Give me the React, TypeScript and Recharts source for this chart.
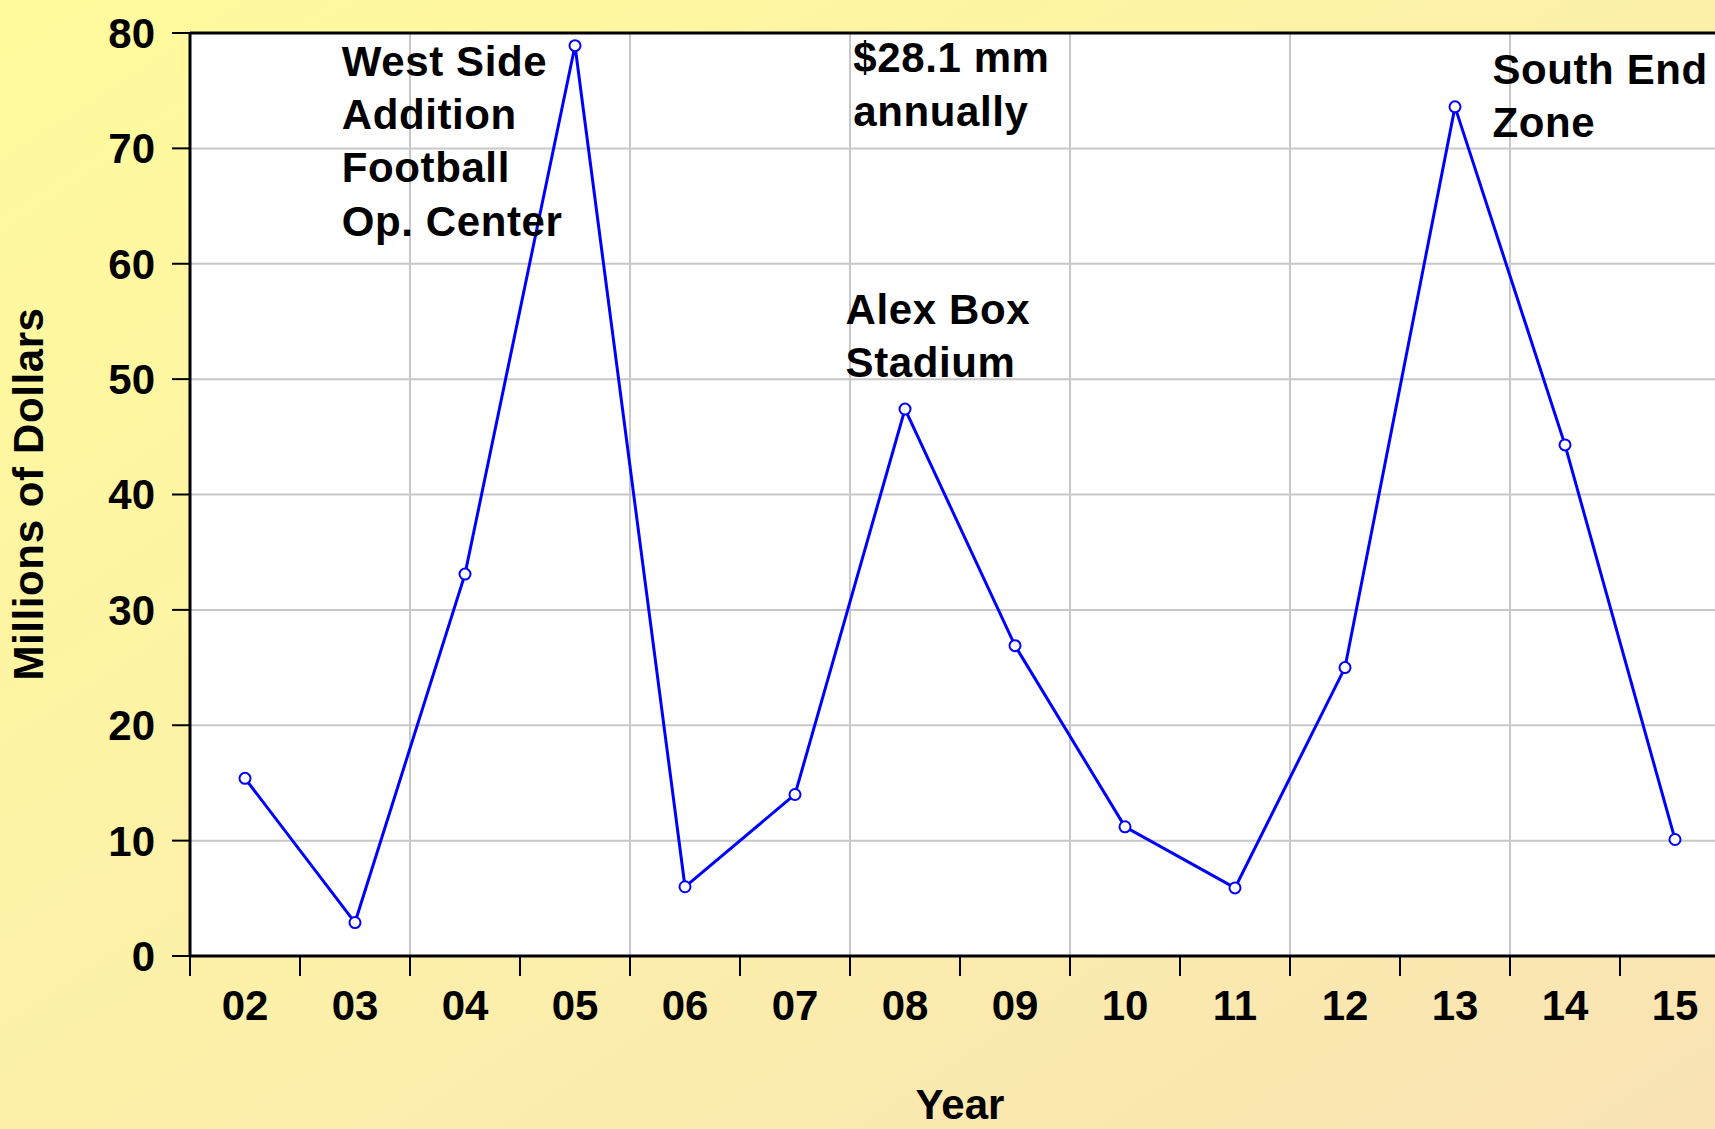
import React from "react";
import {
  LineChart,
  Line,
  XAxis,
  YAxis,
  CartesianGrid,
  ReferenceLine,
  ReferenceDot,
} from "recharts";

const years = ["02", "03", "04", "05", "06", "07", "08", "09", "10", "11", "12", "13", "14", "15"];
const spending = [15.4, 2.9, 33.1, 78.9, 6.0, 14.0, 47.4, 26.9, 11.2, 5.9, 25.0, 73.6, 44.3, 10.1];
const yTicks = [0, 10, 20, 30, 40, 50, 60, 70, 80];
// band edges that carry a vertical grid line
const gridEdges = [2, 4, 6, 8, 10, 12];

const westSide = ["West Side", "Addition", "Football", "Op. Center"];
const average = ["$28.1 mm", "annually"];
const alexBox = ["Alex Box", "Stadium"];
const southEnd = ["South End", "Zone"];

const notes = [
  { x: 1.38, y: 76.3, lines: westSide },
  { x: 6.03, y: 76.6, lines: average },
  { x: 5.96, y: 54.8, lines: alexBox },
  { x: 11.84, y: 75.6, lines: southEnd },
];

const data = years.map((year, i) => ({ year, pos: i + 0.5, value: spending[i] }));
const xTicks = [...years.flatMap((_, i) => [i, i + 0.5]), years.length];

const FONT = "'Liberation Sans', Arial, sans-serif";
const bold = { fontFamily: FONT, fontWeight: 700, fontSize: 42, fill: "#000" };

const YearTick = (props: any) => {
  const { x, y, payload } = props;
  const v = payload.value;
  if (Number.isInteger(v)) {
    return <line x1={x} x2={x} y1={y} y2={y + 20} stroke="#000" strokeWidth={2} />;
  }
  return (
    <text x={x} y={y + 64} textAnchor="middle" style={bold}>
      {years[Math.floor(v)]}
    </text>
  );
};

const NoteText = ({ viewBox, lines }: any) => {
  const x = viewBox?.x ?? 0;
  const y = viewBox?.y ?? 0;
  return (
    <text x={x} y={y} style={{ ...bold, letterSpacing: 0.6 }}>
      {lines.map((l: string, i: number) => (
        <tspan key={i} x={x} y={y + i * 53.3}>
          {l}
        </tspan>
      ))}
    </text>
  );
};

export default function App() {
  return (
    <div
      style={{
        position: "fixed",
        left: 0,
        top: 0,
        width: 1715,
        height: 1129,
        overflow: "hidden",
        background: "linear-gradient(to bottom right, #FFFB9C 0%, #FCEFAA 55%, #F9E3B4 100%)",
      }}
    >
      <LineChart
        width={1760}
        height={1129}
        data={data}
        margin={{ top: 33, right: 30, bottom: 0, left: 0 }}
      >
        <CartesianGrid
          vertical={false}
          stroke="#c8c8c8"
          strokeWidth={2}
          fill="#ffffff"
          fillOpacity={1}
        />
        {gridEdges.map((e) => (
          <ReferenceLine key={e} x={e} stroke="#c8c8c8" strokeWidth={2} />
        ))}
        <ReferenceLine y={80} stroke="#000" strokeWidth={3} />
        <XAxis
          type="number"
          dataKey="pos"
          domain={[0, years.length]}
          ticks={xTicks}
          interval={0}
          allowDecimals
          height={173}
          tickLine={false}
          tickSize={0}
          tickMargin={0}
          axisLine={{ stroke: "#000", strokeWidth: 3 }}
          tick={<YearTick />}
          label={{
            content: () => (
              <text x={960} y={1119} textAnchor="middle" style={bold}>
                Year
              </text>
            ),
          }}
        />
        <YAxis
          domain={[0, 80]}
          ticks={yTicks}
          interval={0}
          width={190}
          tickSize={18}
          tickMargin={17}
          tickLine={{ stroke: "#000", strokeWidth: 2 }}
          axisLine={{ stroke: "#000", strokeWidth: 3 }}
          tick={bold}
          label={{
            content: () => (
              <text
                x={43}
                y={494}
                transform="rotate(-90 43 494)"
                textAnchor="middle"
                style={{ ...bold, letterSpacing: 0.6 }}
              >
                Millions of Dollars
              </text>
            ),
          }}
        />
        {notes.map((n, i) => (
          <ReferenceDot
            key={i}
            x={n.x}
            y={n.y}
            r={0}
            fill="none"
            stroke="none"
            label={{ content: (p: any) => <NoteText viewBox={p.viewBox} lines={n.lines} /> }}
          />
        ))}
        <Line
          type="linear"
          dataKey="value"
          stroke="#0000ff"
          strokeWidth={3}
          dot={{ r: 5.5, fill: "#ffffff", stroke: "#0000ff", strokeWidth: 2 }}
          isAnimationActive={false}
        />
      </LineChart>
    </div>
  );
}
